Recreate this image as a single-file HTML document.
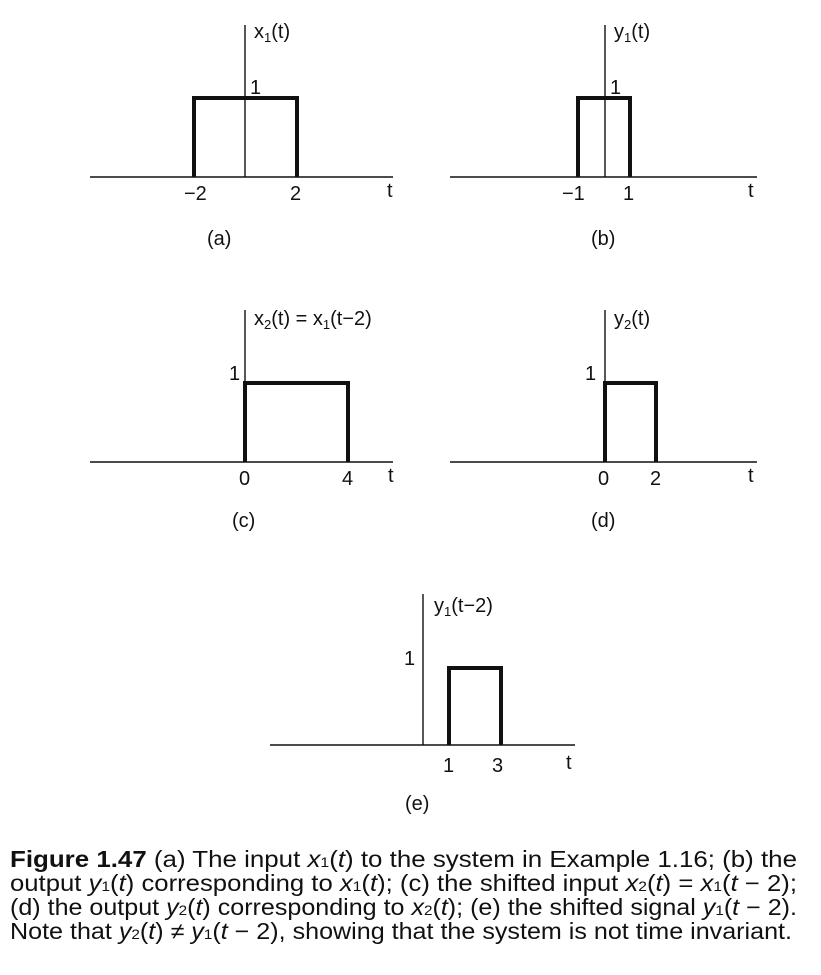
<!DOCTYPE html>
<html><head><meta charset="utf-8"><style>
html,body{margin:0;padding:0;background:#fff;}
svg{display:block;}
text{font-family:"Liberation Sans",sans-serif;font-size:20px;fill:#111;}
.c{font-family:"Liberation Sans Narrow","Liberation Sans",sans-serif;font-size:23px;}
.b{font-weight:bold;}
</style></head><body>
<svg width="821" height="975" viewBox="0 0 821 975">
<g stroke="#111" stroke-width="1.4" fill="none">
<line x1="90" y1="177" x2="393" y2="177"/><line x1="245" y1="25" x2="245" y2="177"/>
<line x1="450" y1="177" x2="757" y2="177"/><line x1="605" y1="25" x2="605" y2="177"/>
<line x1="90" y1="462" x2="393" y2="462"/><line x1="245" y1="310" x2="245" y2="462"/>
<line x1="450" y1="462" x2="757" y2="462"/><line x1="605" y1="310" x2="605" y2="462"/>
<line x1="270" y1="745" x2="575" y2="745"/><line x1="423" y1="594" x2="423" y2="745"/>
</g>
<g stroke="#111" stroke-width="4" fill="none" stroke-linejoin="miter">
<polyline points="194,177 194,98 297,98 297,177"/>
<polyline points="578,177 578,98 630,98 630,177"/>
<polyline points="245,462 245,383 348,383 348,462"/>
<polyline points="605,462 605,383 656,383 656,462"/>
<polyline points="449,745 449,668 501,668 501,745"/>
</g>
<text x="254" y="38">x<tspan font-size="13" dy="4">1</tspan><tspan dy="-4">(t)</tspan></text>
<text x="250" y="94">1</text>
<text x="184" y="200">−2</text><text x="290" y="200">2</text><text x="387" y="197">t</text>
<text x="207" y="245">(a)</text>
<text x="614" y="38">y<tspan font-size="13" dy="4">1</tspan><tspan dy="-4">(t)</tspan></text>
<text x="610" y="94">1</text>
<text x="562" y="200">−1</text><text x="623" y="200">1</text><text x="748" y="197">t</text>
<text x="591" y="245">(b)</text>
<text x="254" y="325">x<tspan font-size="13" dy="4">2</tspan><tspan dy="-4">(t) = x</tspan><tspan font-size="13" dy="4">1</tspan><tspan dy="-4">(t−2)</tspan></text>
<text x="229" y="380">1</text>
<text x="239" y="485">0</text><text x="342" y="485">4</text><text x="388" y="482">t</text>
<text x="232" y="527">(c)</text>
<text x="614" y="325">y<tspan font-size="13" dy="4">2</tspan><tspan dy="-4">(t)</tspan></text>
<text x="585" y="380">1</text>
<text x="598" y="485">0</text><text x="650" y="485">2</text><text x="748" y="482">t</text>
<text x="591" y="527">(d)</text>
<text x="434" y="612">y<tspan font-size="13" dy="4">1</tspan><tspan dy="-4">(t−2)</tspan></text>
<text x="404" y="665">1</text>
<text x="443" y="772">1</text><text x="492" y="772">3</text><text x="566" y="769">t</text>
<text x="405" y="810">(e)</text>
<text class="c" x="10" y="867" textLength="787" lengthAdjust="spacingAndGlyphs"><tspan class="b">Figure 1.47</tspan>    (a) The input <tspan font-style="italic">x</tspan><tspan font-size="14">1</tspan>(<tspan font-style="italic">t</tspan>) to the system in Example 1.16; (b) the</text>
<text class="c" x="10" y="891" textLength="787" lengthAdjust="spacingAndGlyphs">output <tspan font-style="italic">y</tspan><tspan font-size="14">1</tspan>(<tspan font-style="italic">t</tspan>) corresponding to <tspan font-style="italic">x</tspan><tspan font-size="14">1</tspan>(<tspan font-style="italic">t</tspan>); (c) the shifted input <tspan font-style="italic">x</tspan><tspan font-size="14">2</tspan>(<tspan font-style="italic">t</tspan>)  =  <tspan font-style="italic">x</tspan><tspan font-size="14">1</tspan>(<tspan font-style="italic">t</tspan> − 2);</text>
<text class="c" x="10" y="915" textLength="787" lengthAdjust="spacingAndGlyphs">(d) the output <tspan font-style="italic">y</tspan><tspan font-size="14">2</tspan>(<tspan font-style="italic">t</tspan>) corresponding to <tspan font-style="italic">x</tspan><tspan font-size="14">2</tspan>(<tspan font-style="italic">t</tspan>); (e) the shifted signal <tspan font-style="italic">y</tspan><tspan font-size="14">1</tspan>(<tspan font-style="italic">t</tspan> − 2).</text>
<text class="c" x="10" y="939" textLength="782" lengthAdjust="spacingAndGlyphs">Note that <tspan font-style="italic">y</tspan><tspan font-size="14">2</tspan>(<tspan font-style="italic">t</tspan>) ≠ <tspan font-style="italic">y</tspan><tspan font-size="14">1</tspan>(<tspan font-style="italic">t</tspan> − 2), showing that the system is not time invariant.</text>
</svg>
</body></html>
